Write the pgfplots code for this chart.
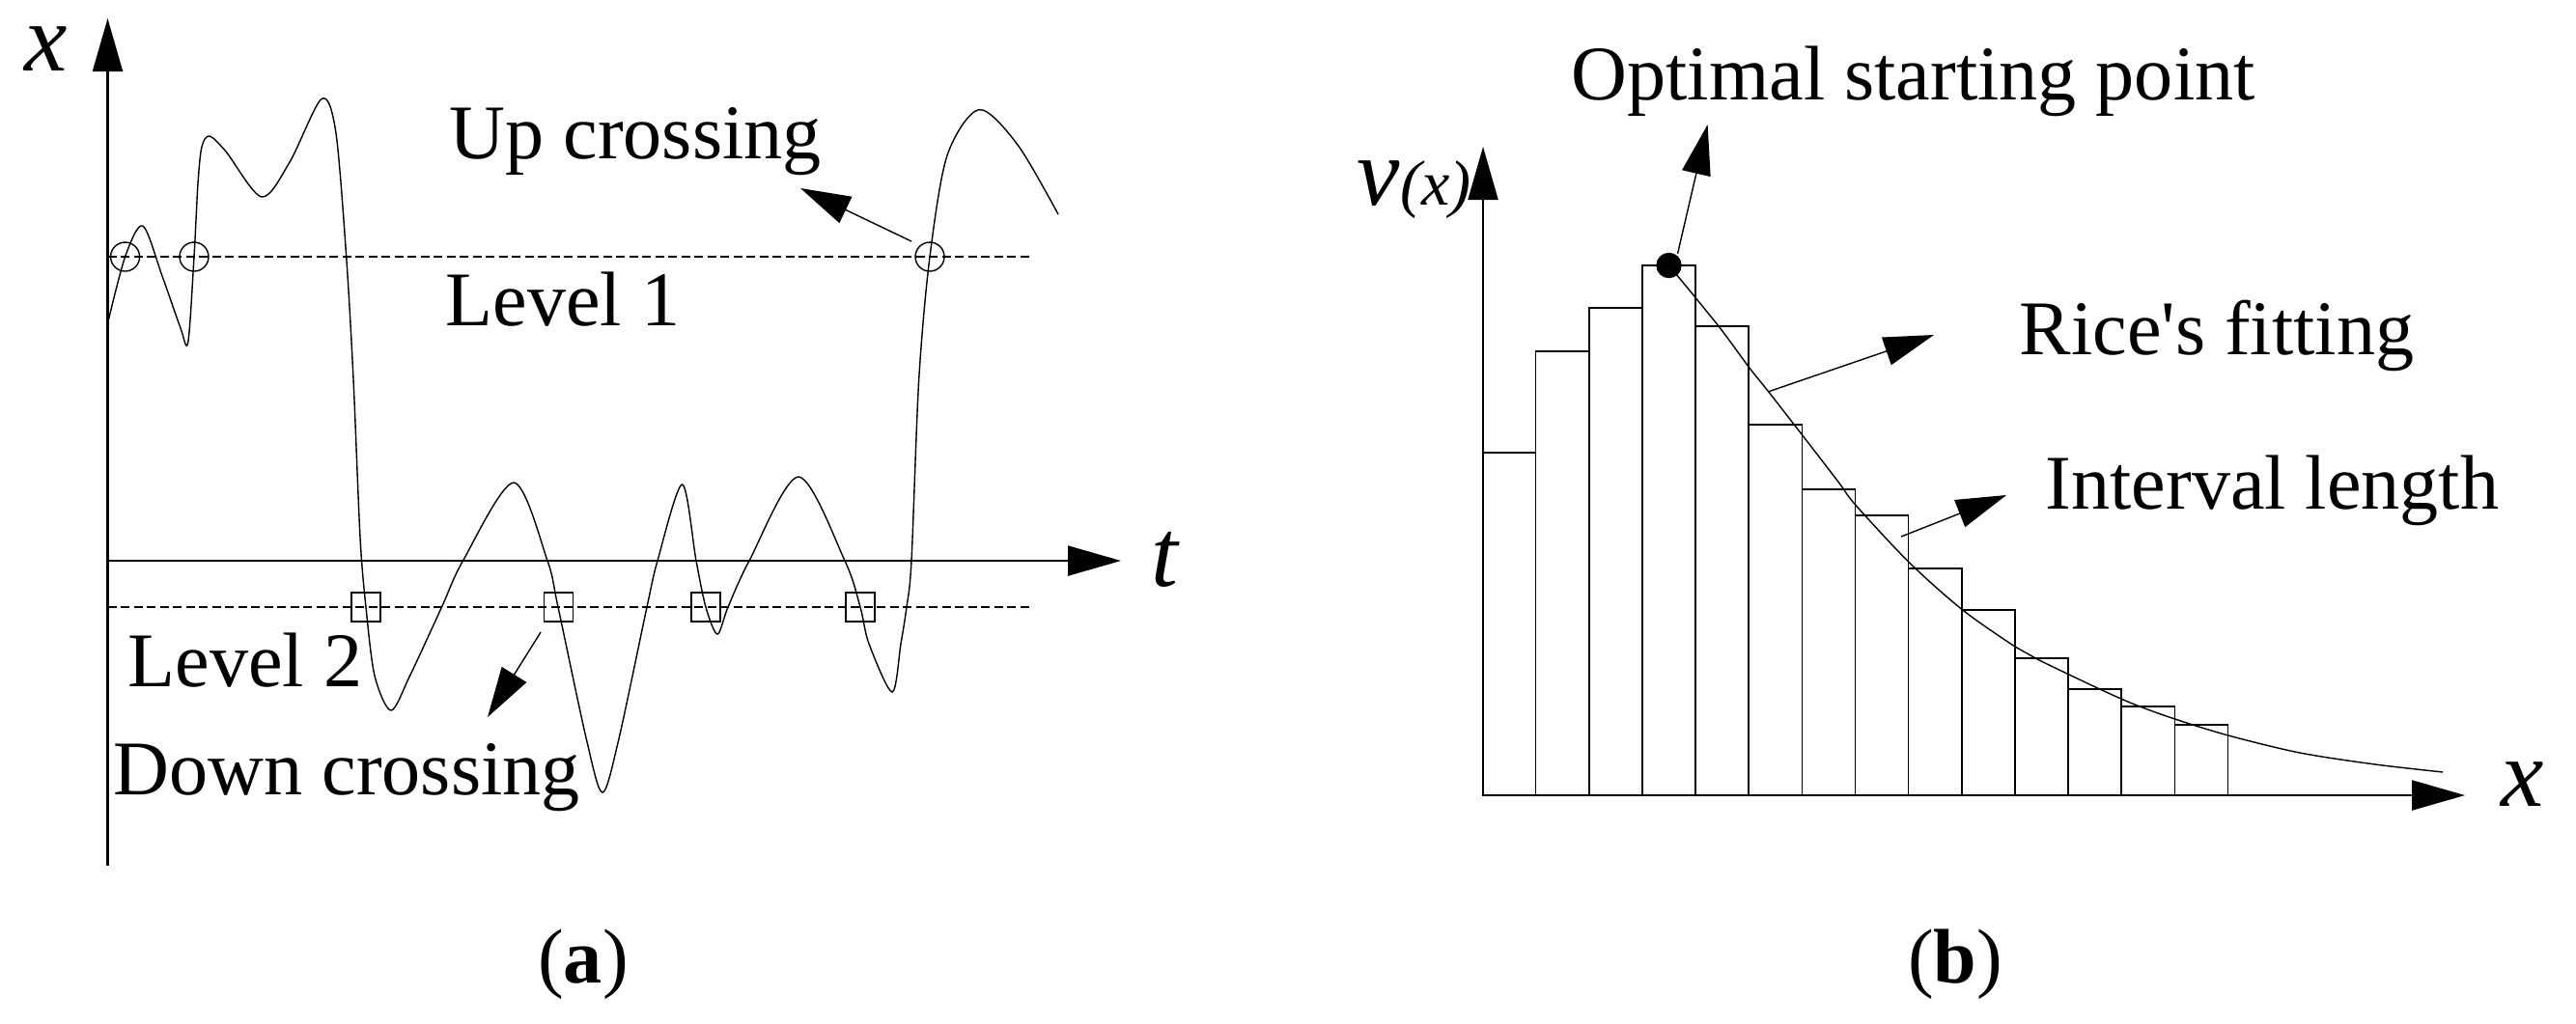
\documentclass[border=0pt]{standalone}
\usepackage{fontspec}
\setmainfont{Liberation Serif}
\usepackage{pgfplots}
\pgfplotsset{compat=1.18}
\usetikzlibrary{arrows.meta}

\newcommand{\txt}{\fontsize{22.8pt}{27pt}\selectfont}
\newcommand{\lbl}{\fontsize{28.4pt}{32pt}\selectfont\itshape}
\newcommand{\sml}{\fontsize{18.8pt}{21pt}\selectfont\itshape}

\pgfplotsset{
  panel/.style={scale only axis, width=133.4mm, height=106mm, hide axis, clip=false},
  crv/.style={black, line width=0.4pt, smooth, tension=0.5, no marks},
  ax/.style={black, line width=0.6pt, no marks, -{Triangle[length=5.5mm,width=3.1mm]}},
  ann/.style={black, line width=0.4pt, no marks, -{Triangle[length=5.2mm,width=3mm]}},
  lvl/.style={black, line width=0.4pt, no marks, dash pattern=on 0.9mm off 0.45mm},
}

\begin{document}
\begin{tikzpicture}
% ---------------- (a) level crossing ----------------
\begin{axis}[panel, xmin=0, xmax=1334, ymin=0, ymax=1060, y dir=reverse]
\addplot[draw=none] coordinates {(0,0) (1334,1060)};
% axes
\addplot[ax] coordinates {(111.5,897) (111.5,19)};
\addplot[ax] coordinates {(111.5,581) (1161,581)};
% levels
\addplot[lvl] coordinates {(111.5,266) (1067,266)};
\addplot[lvl] coordinates {(111.5,629) (1067,629)};
% signal
\addplot[crv] coordinates {
(111.3,336) (129.6,266) (147.9,234) (168,286) (186.7,339) (194.7,355)
(201,266) (205,190) (209,152) (217,141) (234,157) (271,204) (300,168)
(333,102.5) (347.7,136) (358.7,266) (366,393) (373,557) (379,629)
(388,700) (405,736) (424.6,700) (457.5,629) (479.5,581) (532,500)
(567,581) (578,629) (607.6,767) (624,821) (640.6,767) (670,629)
(681,581) (706.5,502) (721,581) (731,629) (743,657) (754,629)
(776,581) (827,494) (875,581) (891,629) (900,667) (924,717) (933,667)
(939,629) (944,581) (951.7,393) (963,266) (981,161) (1014,113.6)
(1054,150) (1096,222)};
% crossings
\addplot[only marks, mark=o, mark size=1.5mm, mark options={line width=0.4pt}]
  coordinates {(129.6,266) (201,266) (963,266)};
\addplot[only marks, mark=square, mark size=1.5mm, mark options={line width=0.4pt}]
  coordinates {(379,629) (578.5,629) (731,629) (891,629)};
% annotations
\addplot[ann] coordinates {(944,250) (829,195)};
\addplot[ann] coordinates {(560,655) (505,743)};
\node[anchor=base west, inner sep=0] at (axis cs:465,164) {\txt Up crossing};
\node[anchor=base west, inner sep=0] at (axis cs:461,337) {\txt Level 1};
\node[anchor=base west, inner sep=0] at (axis cs:132,711) {\txt Level 2};
\node[anchor=base west, inner sep=0] at (axis cs:117,823) {\txt Down crossing};
\node[anchor=base, inner sep=0] at (axis cs:48,73) {\lbl x};
\node[anchor=base, inner sep=0] at (axis cs:1206,607) {\lbl t};
\node[anchor=base, inner sep=0] at (axis cs:604,1018) {\txt (\textbf{a})};
\end{axis}

% ---------------- (b) histogram ----------------
\begin{axis}[panel, at={(133.4mm,0)}, xmin=1334, xmax=2668, ymin=-236, ymax=824]
\addplot[draw=none] coordinates {(1334,-236) (2668,824)};
\addplot[ybar interval, fill=white, draw=black, line width=0.45pt] coordinates {
(1535.5,355) (1590.6,460) (1645.8,505) (1700.9,549) (1756.1,486)
(1811.2,384) (1866.4,317) (1921.5,290) (1976.6,235) (2031.8,192)
(2086.9,142) (2142.1,110) (2197.2,92) (2252.4,73) (2307.5,0)};
% axes
\addplot[ax] coordinates {(1536,0) (1536,672)};
\addplot[ax] coordinates {(1536,0) (2553,0)};
% Rice fitting
\addplot[crv] coordinates {
(1728.5,549) (1780,486) (1811,444) (1831,419) (1866,374) (1904.5,324)
(1921.6,301) (1977.6,241) (2032.7,192) (2087,154) (2110,141)
(2172.6,111) (2211,94) (2252.6,79) (2307.8,62) (2382,44) (2460,32)
(2530,24)};
\addplot[only marks, mark=*, mark size=1.25mm, black] coordinates {(1728.5,549)};
% annotations
\addplot[ann] coordinates {(1737.5,561) (1768.6,695)};
\addplot[ann] coordinates {(1831,418) (2003,477)};
\addplot[ann] coordinates {(1969,268) (2078,311)};
\node[anchor=base west, inner sep=0] at (axis cs:1627,721) {\txt Optimal starting point};
\node[anchor=base west, inner sep=0] at (axis cs:2091,457) {\txt Rice\textquotesingle s fitting};
\node[anchor=base west, inner sep=0] at (axis cs:2118,297) {\txt Interval length};
\node[anchor=base west, inner sep=0] at (axis cs:1405,612) {\lbl v\sml(x)};
\node[anchor=base, inner sep=0] at (axis cs:2613,-11) {\lbl x};
\node[anchor=base, inner sep=0] at (axis cs:2025,-194) {\txt (\textbf{b})};
\end{axis}
\end{tikzpicture}
\end{document}
